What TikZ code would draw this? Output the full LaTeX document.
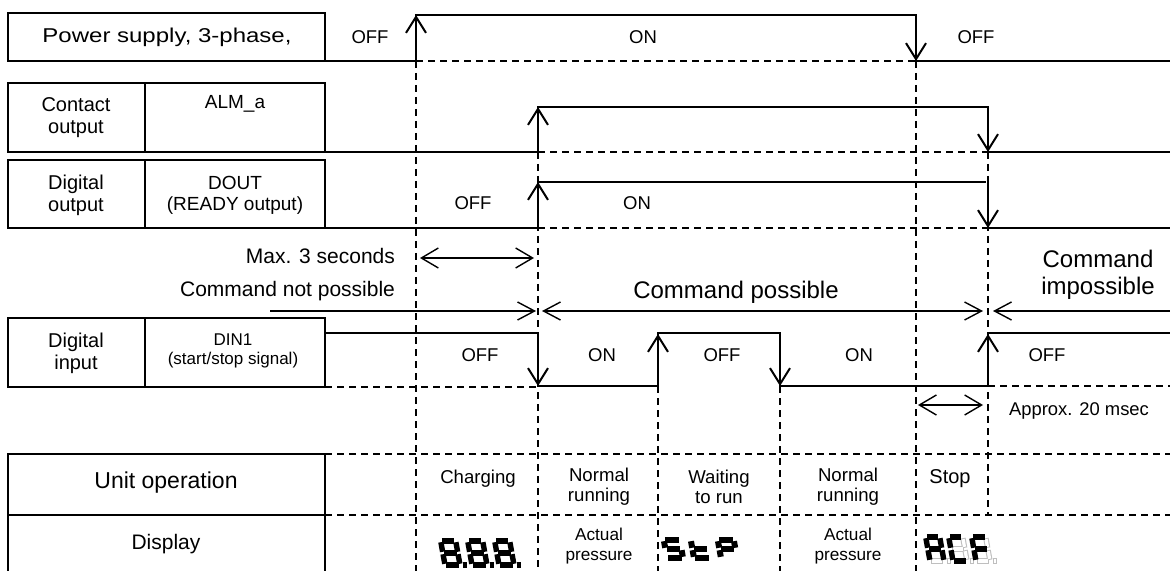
\documentclass[tikz,border=0pt]{standalone}
\usepackage{fontspec}
\setmainfont{Liberation Sans}
\usepackage{graphicx}
\usepackage{tikz}
\usetikzlibrary{arrows.meta}
\newcommand{\segw}{15}
\newcommand{\segh}{24}
\newcommand{\seggap}{1.2}
\expandafter\def\csname segpatha\endcsname{(\seggap,\segh)--(\segw-\seggap,\segh)}
\expandafter\def\csname segpathb\endcsname{(\segw,\segh-\seggap)--(\segw,\segh/2+\seggap)}
\expandafter\def\csname segpathc\endcsname{(\segw,\segh/2-\seggap)--(\segw,\seggap)}
\expandafter\def\csname segpathd\endcsname{(\seggap,0)--(\segw-\seggap,0)}
\expandafter\def\csname segpathe\endcsname{(0,\seggap)--(0,\segh/2-\seggap)}
\expandafter\def\csname segpathf\endcsname{(0,\segh/2+\seggap)--(0,\segh-\seggap)}
\expandafter\def\csname segpathg\endcsname{(\seggap,\segh/2)--(\segw-\seggap,\segh/2)}
\expandafter\def\csname segpathp\endcsname{(\segw+3,0)--(\segw+6.5,0)}
\newcommand{\segdigit}[3][segline]{%
  \begin{scope}[shift={#2}, yscale=-1, xslant=0.18]
    \foreach \s in {#3}{\draw[#1] \csname segpath\s\endcsname;}
  \end{scope}}
\tikzset{barb/.tip={Straight Barb[length=8.5pt,width=9pt]}}

\begin{document}
\begin{tikzpicture}[x=0.5pt, y=-0.5pt,
    wave/.style={line width=1pt},
    guide/.style={line width=0.7pt, dash pattern=on 3.5pt off 2.5pt},
    frame/.style={line width=1pt},
    flip/.style={line width=1pt, -{Straight Barb[length=8pt,width=10pt]}},
    span/.style={line width=0.7pt, {Straight Barb[length=8.5pt,width=10pt]}-{Straight Barb[length=8.5pt,width=10pt]}},
    cmd/.style={line width=0.7pt},
    lvl/.style={font=\fontsize{9.25}{11}\selectfont},
    head/.style={font=\fontsize{10}{11}\selectfont, align=center},
    sig/.style={font=\fontsize{9.5}{10.5}\selectfont, align=center},
    note/.style={font=\fontsize{10.5}{12}\selectfont},
    big/.style={font=\fontsize{12}{13.5}\selectfont, align=center},
    cell/.style={font=\fontsize{9.3}{10}\selectfont, align=center},
    segline/.style={line width=2.7pt, line cap=butt},
    segbold/.style={line width=3pt, line cap=butt},
    segghost/.style={line width=2.7pt, line cap=butt, draw=black!25},
    seginner/.style={line width=1.6pt, line cap=butt, draw=white, shorten <=0.5pt, shorten >=0.5pt}
]
\useasboundingbox (0,0) rectangle (1170,571);

\draw[frame] (8,13) rectangle (325,61);
\draw[frame] (8,83) rectangle (325,152);
\draw[frame] (145,83) -- (145,152);
\draw[frame] (8,160) rectangle (325,228);
\draw[frame] (145,160) -- (145,228);
\draw[frame] (8,318) rectangle (325,387);
\draw[frame] (145,318) -- (145,387);
\draw[frame] (8,454) rectangle (325,515);
\draw[frame] (8,515) -- (8,575);
\draw[frame] (325,515) -- (325,575);

\draw[guide] (416,61) -- (416,575);
\draw[guide] (538,152) -- (538,575);
\draw[guide] (658,386) -- (658,575);
\draw[guide] (780,386) -- (780,575);
\draw[guide] (916,61) -- (916,575);
\draw[guide] (988,152) -- (988,515);
\draw[guide] (416,61) -- (916,61);
\draw[guide] (538,152) -- (988,152);
\draw[guide] (538,228) -- (988,228);
\draw[guide] (325,387) -- (538,387);
\draw[guide] (988,386) -- (1170,386);
\draw[guide] (325,454) -- (1170,454);
\draw[guide] (325,515) -- (1170,515);

\draw[wave] (325,61) -- (416,61) -- (416,15) -- (916,15) -- (916,61) -- (1170,61);
\draw[flip] (416,61) -- (416,15);
\draw[flip] (916,15) -- (916,61);
\draw[wave] (325,152) -- (538,152) -- (538,107) -- (988,107) -- (988,152) -- (1170,152);
\draw[flip] (538,152) -- (538,107);
\draw[flip] (988,107) -- (988,152);
\draw[wave] (325,228) -- (538,228) -- (538,182) -- (986,182);
\draw[wave] (988,182) -- (988,228) -- (1170,228);
\draw[flip] (538,228) -- (538,182);
\draw[flip] (988,184) -- (988,228);
\draw[wave] (325,333) -- (538,333) -- (538,386) -- (658,386) -- (658,333) -- (780,333)
    -- (780,386) -- (988,386) -- (988,333) -- (1170,333);
\draw[flip] (538,333) -- (538,386);
\draw[flip] (658,386) -- (658,334);
\draw[flip] (780,333) -- (780,386);
\draw[flip] (988,386) -- (988,334);

\draw[span] (420,258) -- (534,258);
\draw[span] (918,405) -- (983,405);
\draw[cmd, -barb] (270,311) -- (536,311);
\draw[cmd, barb-barb] (542,311) -- (983,311);
\draw[cmd, barb-] (993,311) -- (1170,311);

\node (pwr) at (167,37) {\fontsize{10}{12}\selectfont\scalebox{1.2}[1]{Power supply, 3-phase,}};
\node[lvl] (pwroff) at (370,37) {OFF};
\node[lvl] (pwron) at (643,37) {ON};
\node[lvl] (pwroffb) at (976,37) {OFF};
\node[head] (cnt) at (76,118) {Contact\\output};
\node[sig] (alm) at (235,104) {ALM\_a};
\node[head] (dig) at (76,195) {Digital\\output};
\node[sig] (dout) at (235,195) {DOUT\\(READY output)};
\node[lvl] (doutoff) at (473,203) {OFF};
\node[lvl] (douton) at (637,203) {ON};
\node[note, anchor=east] (maxs) at (402,256) {Max. 3 seconds};
\node[note, anchor=east] (cnp) at (402,291) {Command not possible};
\node[big] (cp) at (736,292) {Command possible};
\node[big] (ci) at (1098,275) {Command\\impossible};
\node[head] (din) at (76,353) {Digital\\input};
\node[font=\fontsize{8.5}{9.5}\selectfont, align=center] (dinsig) at (233,351) {DIN1\\(start/stop signal)};
\node[lvl] (dinoff) at (480,355) {OFF};
\node[lvl] (dinon) at (602,355) {ON};
\node[lvl] (dinoffb) at (722,355) {OFF};
\node[lvl] (dinonb) at (859,355) {ON};
\node[lvl] (dinoffc) at (1047,355) {OFF};
\node[font=\fontsize{9.2}{10}\selectfont] (apx) at (1079,411) {Approx. 20 msec};
\node[font=\fontsize{11.5}{13}\selectfont] (unit) at (166,483) {Unit operation};
\node[font=\fontsize{10.5}{12}\selectfont] (disp) at (166,544) {Display};
\node[cell] (chg) at (478,479) {Charging};
\node[cell] (nra) at (599,487) {Normal\\running};
\node[cell] (wtr) at (719,487) {Waiting\\to run};
\node[cell] (nrb) at (848,487) {Normal\\running};
\node[font=\fontsize{10}{11}\selectfont] (stp) at (950,479) {Stop};
\node[font=\fontsize{8.6}{9.6}\selectfont, align=center] (apa) at (599,546) {Actual\\pressure};
\node[font=\fontsize{8.6}{9.6}\selectfont, align=center] (apb) at (848,546) {Actual\\pressure};

\segdigit{(445,565)}{a,b,c,d,e,f,g,p}
\segdigit{(472,565)}{a,b,c,d,e,f,g,p}
\segdigit{(499,565)}{a,b,c,d,e,f,g,p}

\renewcommand{\segw}{16}\renewcommand{\segh}{18}
\segdigit[segbold]{(667,558)}{a,f,g,c,d}
\segdigit[segbold]{(694,558)}{f,g,e,d}
\segdigit[segbold]{(721,558)}{a,b,f,g,e}

\renewcommand{\segw}{14}\renewcommand{\segh}{24}
\segdigit[segghost]{(930,561)}{d,p}
\segdigit[seginner]{(930,561)}{d,p}
\segdigit{(930,561)}{a,b,c,e,f,g}
\segdigit[segghost]{(953,561)}{b,c,g,p}
\segdigit[seginner]{(953,561)}{b,c,g,p}
\segdigit{(953,561)}{a,d,e,f}
\segdigit[segghost]{(976,561)}{b,c,d,p}
\segdigit[seginner]{(976,561)}{b,c,d,p}
\segdigit{(976,561)}{a,e,f,g}
\end{tikzpicture}
\end{document}
